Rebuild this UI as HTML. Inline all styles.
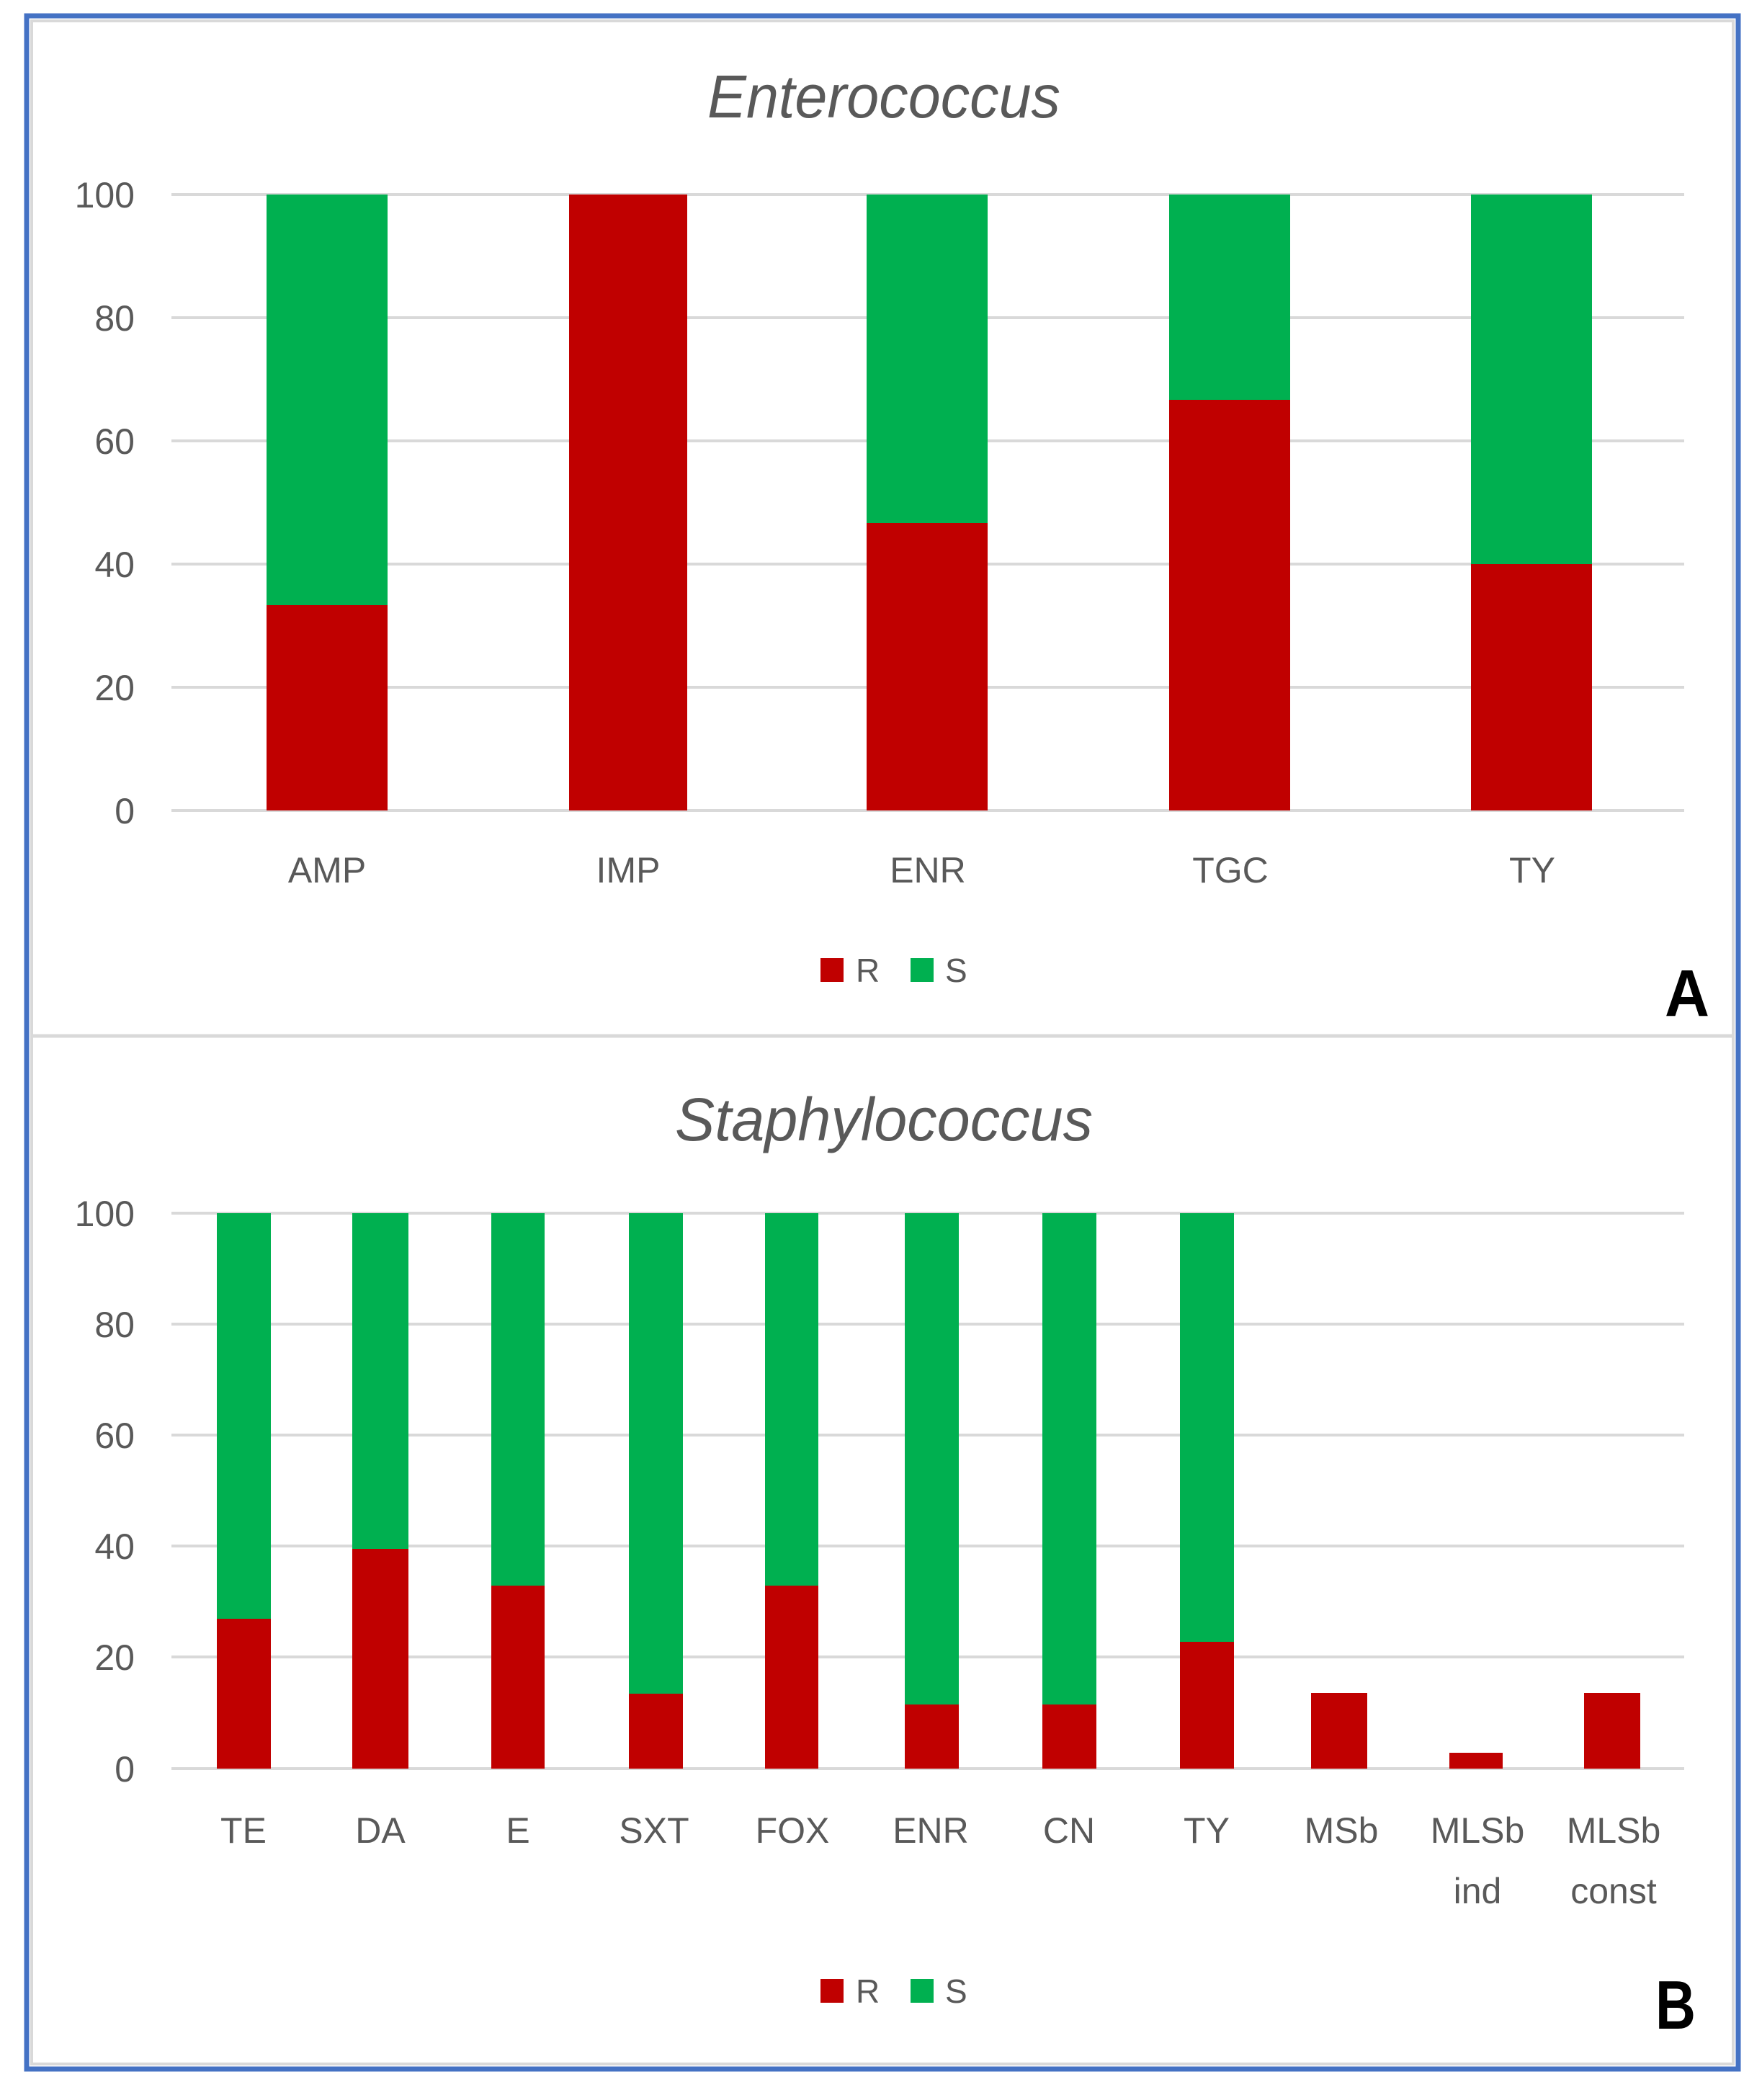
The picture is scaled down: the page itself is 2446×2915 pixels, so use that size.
<!DOCTYPE html>
<html><head><meta charset="utf-8"><style>html,body{margin:0;padding:0;background:#fff}svg{display:block}</style></head>
<body>
<svg width="2446" height="2915" viewBox="0 0 2446 2915" xmlns="http://www.w3.org/2000/svg" font-family="'Liberation Sans', sans-serif">
<rect x="0" y="0" width="2446" height="2915" fill="#fff"/>
<rect x="37" y="22" width="2376" height="2850" fill="none" stroke="#4472c4" stroke-width="7"/>
<rect x="44" y="29" width="2362" height="2836" fill="none" stroke="#d9d9d9" stroke-width="4"/>
<line x1="44" y1="1438" x2="2406" y2="1438" stroke="#d9d9d9" stroke-width="5"/>

<!-- Chart A -->
<text x="1227" y="163" text-anchor="middle" font-size="84" font-style="italic" fill="#595959" textLength="490" lengthAdjust="spacingAndGlyphs">Enterococcus</text>
<g stroke="#d9d9d9" stroke-width="4">
<line x1="238" y1="270" x2="2338" y2="270"/><line x1="238" y1="441" x2="2338" y2="441"/>
<line x1="238" y1="612" x2="2338" y2="612"/><line x1="238" y1="783" x2="2338" y2="783"/>
<line x1="238" y1="954" x2="2338" y2="954"/><line x1="238" y1="1125" x2="2338" y2="1125"/>
</g>
<g font-size="50" fill="#595959" text-anchor="end">
<text x="187" y="288">100</text><text x="187" y="459">80</text><text x="187" y="630">60</text>
<text x="187" y="801">40</text><text x="187" y="972">20</text><text x="187" y="1143">0</text>
</g>
<g>
<rect x="370" y="270" width="168" height="570" fill="#00b050"/><rect x="370" y="840" width="168" height="285" fill="#c00000"/>
<rect x="790" y="270" width="164" height="855" fill="#c00000"/>
<rect x="1203" y="270" width="168" height="456" fill="#00b050"/><rect x="1203" y="726" width="168" height="399" fill="#c00000"/>
<rect x="1623" y="270" width="168" height="285" fill="#00b050"/><rect x="1623" y="555" width="168" height="570" fill="#c00000"/>
<rect x="2042" y="270" width="168" height="513" fill="#00b050"/><rect x="2042" y="783" width="168" height="342" fill="#c00000"/>
</g>
<g font-size="50" fill="#595959" text-anchor="middle">
<text x="454" y="1225">AMP</text><text x="872" y="1225">IMP</text><text x="1288" y="1225">ENR</text>
<text x="1708" y="1225">TGC</text><text x="2127" y="1225">TY</text>
</g>
<rect x="1139" y="1330" width="32" height="33" fill="#c00000"/>
<text x="1188" y="1363" font-size="46" fill="#595959">R</text>
<rect x="1264" y="1330" width="32" height="33" fill="#00b050"/>
<text x="1312" y="1363" font-size="46" fill="#595959">S</text>
<text x="2342" y="1410" font-size="92" font-weight="bold" fill="#000" text-anchor="middle" textLength="62" lengthAdjust="spacingAndGlyphs">A</text>

<!-- Chart B -->
<text x="1227" y="1583" text-anchor="middle" font-size="84" font-style="italic" fill="#595959" textLength="580" lengthAdjust="spacingAndGlyphs">Staphylococcus</text>
<g stroke="#d9d9d9" stroke-width="4">
<line x1="238" y1="1684" x2="2338" y2="1684"/><line x1="238" y1="1838" x2="2338" y2="1838"/>
<line x1="238" y1="1992" x2="2338" y2="1992"/><line x1="238" y1="2146" x2="2338" y2="2146"/>
<line x1="238" y1="2300" x2="2338" y2="2300"/><line x1="238" y1="2455" x2="2338" y2="2455"/>
</g>
<g font-size="50" fill="#595959" text-anchor="end">
<text x="187" y="1702">100</text><text x="187" y="1856">80</text><text x="187" y="2010">60</text>
<text x="187" y="2164">40</text><text x="187" y="2318">20</text><text x="187" y="2473">0</text>
</g>
<g>
<rect x="301" y="1684" width="75" height="563" fill="#00b050"/><rect x="301" y="2247" width="75" height="208" fill="#c00000"/>
<rect x="489" y="1684" width="78" height="466" fill="#00b050"/><rect x="489" y="2150" width="78" height="305" fill="#c00000"/>
<rect x="682" y="1684" width="74" height="517" fill="#00b050"/><rect x="682" y="2201" width="74" height="254" fill="#c00000"/>
<rect x="873" y="1684" width="75" height="667" fill="#00b050"/><rect x="873" y="2351" width="75" height="104" fill="#c00000"/>
<rect x="1062" y="1684" width="74" height="517" fill="#00b050"/><rect x="1062" y="2201" width="74" height="254" fill="#c00000"/>
<rect x="1256" y="1684" width="75" height="682" fill="#00b050"/><rect x="1256" y="2366" width="75" height="89" fill="#c00000"/>
<rect x="1447" y="1684" width="75" height="682" fill="#00b050"/><rect x="1447" y="2366" width="75" height="89" fill="#c00000"/>
<rect x="1638" y="1684" width="75" height="595" fill="#00b050"/><rect x="1638" y="2279" width="75" height="176" fill="#c00000"/>
<rect x="1820" y="2350" width="78" height="105" fill="#c00000"/>
<rect x="2012" y="2433" width="74" height="22" fill="#c00000"/>
<rect x="2199" y="2350" width="78" height="105" fill="#c00000"/>
</g>
<g font-size="50" fill="#595959" text-anchor="middle">
<text x="338" y="2558">TE</text><text x="528" y="2558">DA</text><text x="719" y="2558">E</text>
<text x="908" y="2558">SXT</text><text x="1100" y="2558">FOX</text><text x="1292" y="2558">ENR</text>
<text x="1484" y="2558">CN</text><text x="1675" y="2558">TY</text><text x="1862" y="2558">MSb</text>
<text x="2051" y="2558">MLSb</text><text x="2051" y="2642">ind</text>
<text x="2240" y="2558">MLSb</text><text x="2240" y="2642">const</text>
</g>
<rect x="1139" y="2747" width="32" height="33" fill="#c00000"/>
<text x="1188" y="2780" font-size="46" fill="#595959">R</text>
<rect x="1264" y="2747" width="32" height="33" fill="#00b050"/>
<text x="1312" y="2780" font-size="46" fill="#595959">S</text>
<text x="2326" y="2816" font-size="96" font-weight="bold" fill="#000" text-anchor="middle" textLength="56" lengthAdjust="spacingAndGlyphs">B</text>
</svg>
</body></html>
